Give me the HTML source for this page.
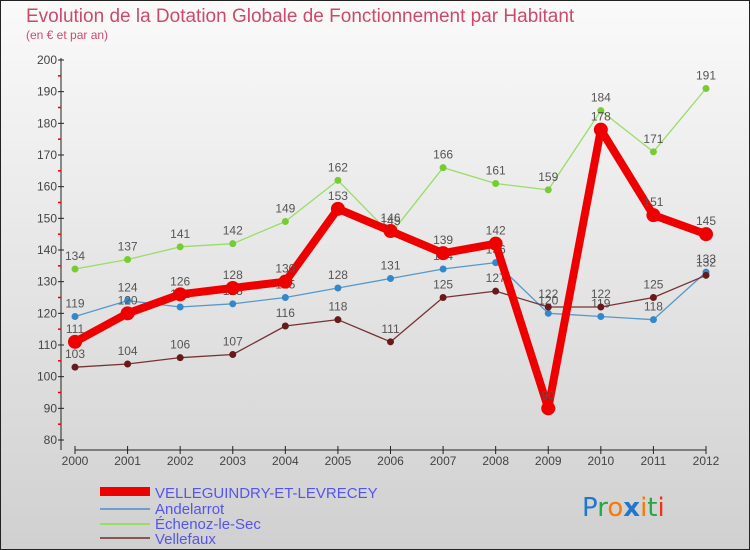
<!DOCTYPE html>
<html><head><meta charset="utf-8"><style>
body{margin:0}
svg{display:block;font-family:"Liberation Sans",sans-serif}
</style></head><body>
<svg width="750" height="550" viewBox="0 0 750 550">
<defs><linearGradient id="bg" x1="0" y1="0" x2="0" y2="1"><stop offset="0" stop-color="#fafafa"/><stop offset="1" stop-color="#d0d0d0"/></linearGradient></defs>
<rect x="0.5" y="0.5" width="749" height="549" fill="url(#bg)" stroke="#222"/>
<text x="26" y="22" font-size="19" fill="#c8385a" opacity="0.9">Evolution de la Dotation Globale de Fonctionnement par Habitant</text>
<text x="26" y="39" font-size="12" fill="#c8385a" opacity="0.9">(en € et par an)</text>
<g id="axes"></g><g id="series"></g>
<g font-size="15" fill="#5555ee">
<rect x="100" y="487" width="50" height="9" fill="#ee0000"/>
<text x="155" y="498">VELLEGUINDRY-ET-LEVRECEY</text>
<line x1="100" y1="509" x2="150" y2="509" stroke="#6aa0cc" stroke-width="2"/>
<text x="155" y="514">Andelarrot</text>
<line x1="100" y1="524" x2="150" y2="524" stroke="#99dd66" stroke-width="2"/>
<text x="155" y="529">Échenoz-le-Sec</text>
<line x1="100" y1="538" x2="150" y2="538" stroke="#885555" stroke-width="2"/>
<text x="155" y="544">Vellefaux</text>
</g>
<text x="582" y="516" font-size="26" font-family="DejaVu Sans, sans-serif"><tspan fill="#2277cc">P</tspan><tspan fill="#22aa44">r</tspan><tspan fill="#ff7700">o</tspan><tspan fill="#2277cc" font-weight="bold">x</tspan><tspan fill="#ff7700">i</tspan><tspan fill="#22aa44">t</tspan><tspan fill="#ee3322">i</tspan></text>
</svg>
<script>
const years=["2000","2001","2002","2003","2004","2005","2006","2007","2008","2009","2010","2011","2012"];
const yTicks=[80,90,100,110,120,130,140,150,160,170,180,190,200];
const velleguindry=[111,120,126,128,130,153,146,139,142,90,178,151,145];
const andelarrot=[119,124,122,123,125,128,131,134,136,120,119,118,133];
const echenoz=[134,137,141,142,149,162,145,166,161,159,184,171,191];
const vellefaux=[103,104,106,107,116,118,111,125,127,122,122,125,132];
const NS="http://www.w3.org/2000/svg";
const X=i=>75+i*(706-75)/12;
const Y=v=>440-(v-80)*(380/120);
function mk(t,a,p){const e=document.createElementNS(NS,t);for(const k in a)e.setAttribute(k,a[k]);p.appendChild(e);return e;}
const ax=document.getElementById('axes');
let l=mk('line',{x1:61,y1:58,x2:61,y2:450,stroke:'#222'},ax);


l=mk('line',{x1:75,y1:450,x2:706,y2:450,stroke:'#222'},ax);


yTicks.forEach((v,k)=>{
 const t=mk('text',{x:57,y:Y(v)+4,'text-anchor':'end','font-size':12,fill:'#444'},ax);t.textContent=v;
 
 
 const tk=mk('line',{x1:58,y1:Y(v),x2:64,y2:Y(v),stroke:'#222'},ax);
 
 
 if(k<yTicks.length-1){
  const m=mk('line',{x1:58,y1:Y(v+5),x2:61,y2:Y(v+5),stroke:'#e00','stroke-width':1.5},ax);
  
  
 }
});
years.forEach((y,i)=>{
 const tk=mk('line',{x1:X(i),y1:446,x2:X(i),y2:454,stroke:'#222'},ax);
 
 
 const t=mk('text',{x:X(i),y:465,'text-anchor':'middle','font-size':12,fill:'#444'},ax);t.textContent=y;
 
 
});
const sg=document.getElementById('series');
function series(name,vals,color,w,r,dot){
 const g=mk('g',{},sg);
 
 
 const p=mk('polyline',{points:vals.map((v,i)=>X(i)+','+Y(v)).join(' '),fill:'none',stroke:color,'stroke-width':w,'stroke-linejoin':'round'},g);
 
 
 vals.forEach((v,i)=>{
  const c=mk('circle',{cx:X(i),cy:Y(v),r:r,fill:dot},g);
  
  
  const t=mk('text',{x:X(i),y:Y(v)-9,'text-anchor':'middle','font-size':12,fill:'#555'},g);t.textContent=v;
  
  
 });
}
series('echenoz',echenoz,'#99dd66',1.3,3.5,'#77cc33');
series('andelarrot',andelarrot,'#5599cc',1.3,3.5,'#3388cc');
series('vellefaux',vellefaux,'#773333',1.3,3.5,'#661a1a');
series('velleguindry',velleguindry,'#ee0000',8,7,'#ee0000');
</script>
</body></html>
